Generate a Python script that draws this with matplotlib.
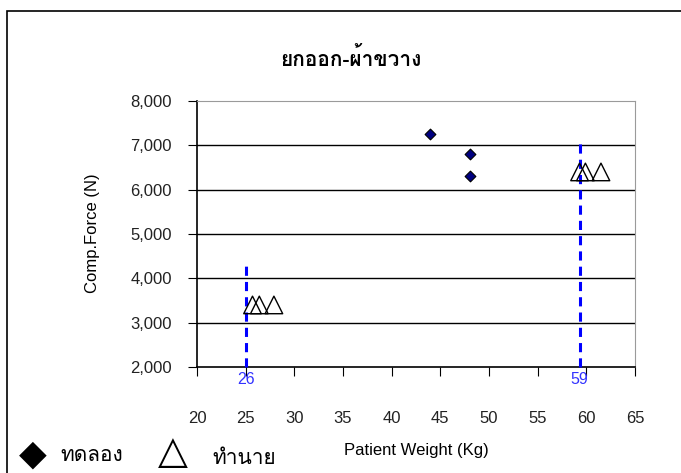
#!/usr/bin/env python3
# -*- coding: utf-8 -*-

"""
Scatter: compressive force vs patient weight, measured vs predicted.
"""

import matplotlib
matplotlib.use("Agg")
import matplotlib.pyplot as plt
from matplotlib.patches import Rectangle

THAI = ["Loma", "Garuda", "Norasi", "Tlwg Typo", "Noto Sans Thai", "Noto Sans",
        "DejaVu Sans"]

TITULO = "ยกออก-ผ้าขวาง"
ROTULO_X = "Patient Weight (Kg)"
ROTULO_Y = "Comp.Force (N)"

# experimental points (ทดลอง)
exp_peso = [43.9, 48.0, 48.0]
exp_forca = [7250, 6800, 6300]

# predicted points (ทำนาย)
pred_peso = [25.7, 26.4, 27.9, 59.3, 59.9, 61.5]
pred_forca = [3400, 3400, 3400, 6400, 6400, 6400]

# dashed reference lines
ref_x = [25.0, 59.3]
ref_topo = [4400, 7100]
ref_texto = ["26", "59"]

x_ticks = [20, 25, 30, 35, 40, 45, 50, 55, 60, 65]
y_ticks = [2000, 3000, 4000, 5000, 6000, 7000, 8000]
legenda = ["ทดลอง", "ทำนาย"]


def main():
    plt.rcParams["font.family"] = ["Liberation Sans", "DejaVu Sans"]
    fig = plt.figure(figsize=(6.81, 4.73), dpi=100)
    ax = fig.add_axes([0.2893, 0.2241, 0.6432, 0.5624])

    # outer chart frame (cropped at right/bottom)
    fig.patches.append(Rectangle((7 / 681, -0.05), 1.2, 1 - 11 / 473 + 0.05,
                                 transform=fig.transFigure, fill=False,
                                 edgecolor="black", linewidth=1.2))

    ax.set_xlim(20, 65)
    ax.set_ylim(2000, 8000)
    ax.set_xticks(x_ticks)
    ax.set_yticks(y_ticks)
    ax.set_yticklabels([f"{v:,}" for v in y_ticks])
    ax.tick_params(axis="x", direction="out", length=6.5, pad=25.5,
                   labelsize=12, labelcolor="#222222")
    ax.tick_params(axis="y", direction="out", length=6.5, pad=11.5,
                   labelsize=12, labelcolor="#222222")

    for v in y_ticks[1:-1]:
        ax.axhline(v, color="black", linewidth=1, zorder=1)

    ax.spines["top"].set_color("#9a9a9a")
    ax.spines["right"].set_color("#9a9a9a")
    ax.spines["left"].set_linewidth(1.2)
    ax.spines["bottom"].set_linewidth(1.2)

    for x, topo, txt in zip(ref_x, ref_topo, ref_texto):
        ax.plot([x, x], [2000, topo], color="blue", linestyle=(0, (3, 2)),
                linewidth=2.2, zorder=4, clip_on=False)
        ax.text(x, 1880, txt, color="#3333ff", fontsize=11.5, ha="center",
                va="top")

    ax.scatter(exp_peso, exp_forca, marker="D", s=30, c="#000080",
               edgecolors="black", linewidths=0.8, zorder=5)
    ax.scatter(pred_peso, pred_forca, marker="^", s=160, facecolors="none",
               edgecolors="black", linewidths=1.0, zorder=5)

    fig.text(0.515, 1 - 58 / 473, TITULO, ha="center", va="center",
             fontsize=15, fontweight="bold", family=THAI)
    fig.text(93 / 681, 1 - 233 / 473, ROTULO_Y, rotation=90, ha="center",
             va="center", fontsize=12)
    fig.text(416 / 681, 1 - 450 / 473, ROTULO_X, ha="center", va="center",
             fontsize=12)

    # legend drawn by hand at bottom left
    fig.text(33 / 681, 1 - 455 / 473, "\u25c6", ha="center", va="center",
             fontsize=26, family="DejaVu Sans")
    fig.text(60 / 681, 1 - 455 / 473, legenda[0], ha="left", va="center",
             fontsize=15, family=THAI)
    fig.text(173 / 681, 1 - 452 / 473, "\u25b3", ha="center", va="center",
             fontsize=28, family="DejaVu Sans")
    fig.text(212 / 681, 1 - 458 / 473, legenda[1], ha="left", va="center",
             fontsize=15, family=THAI)

    fig.savefig("out.png", dpi=100)
    plt.close(fig)


if __name__ == "__main__":
    main()
